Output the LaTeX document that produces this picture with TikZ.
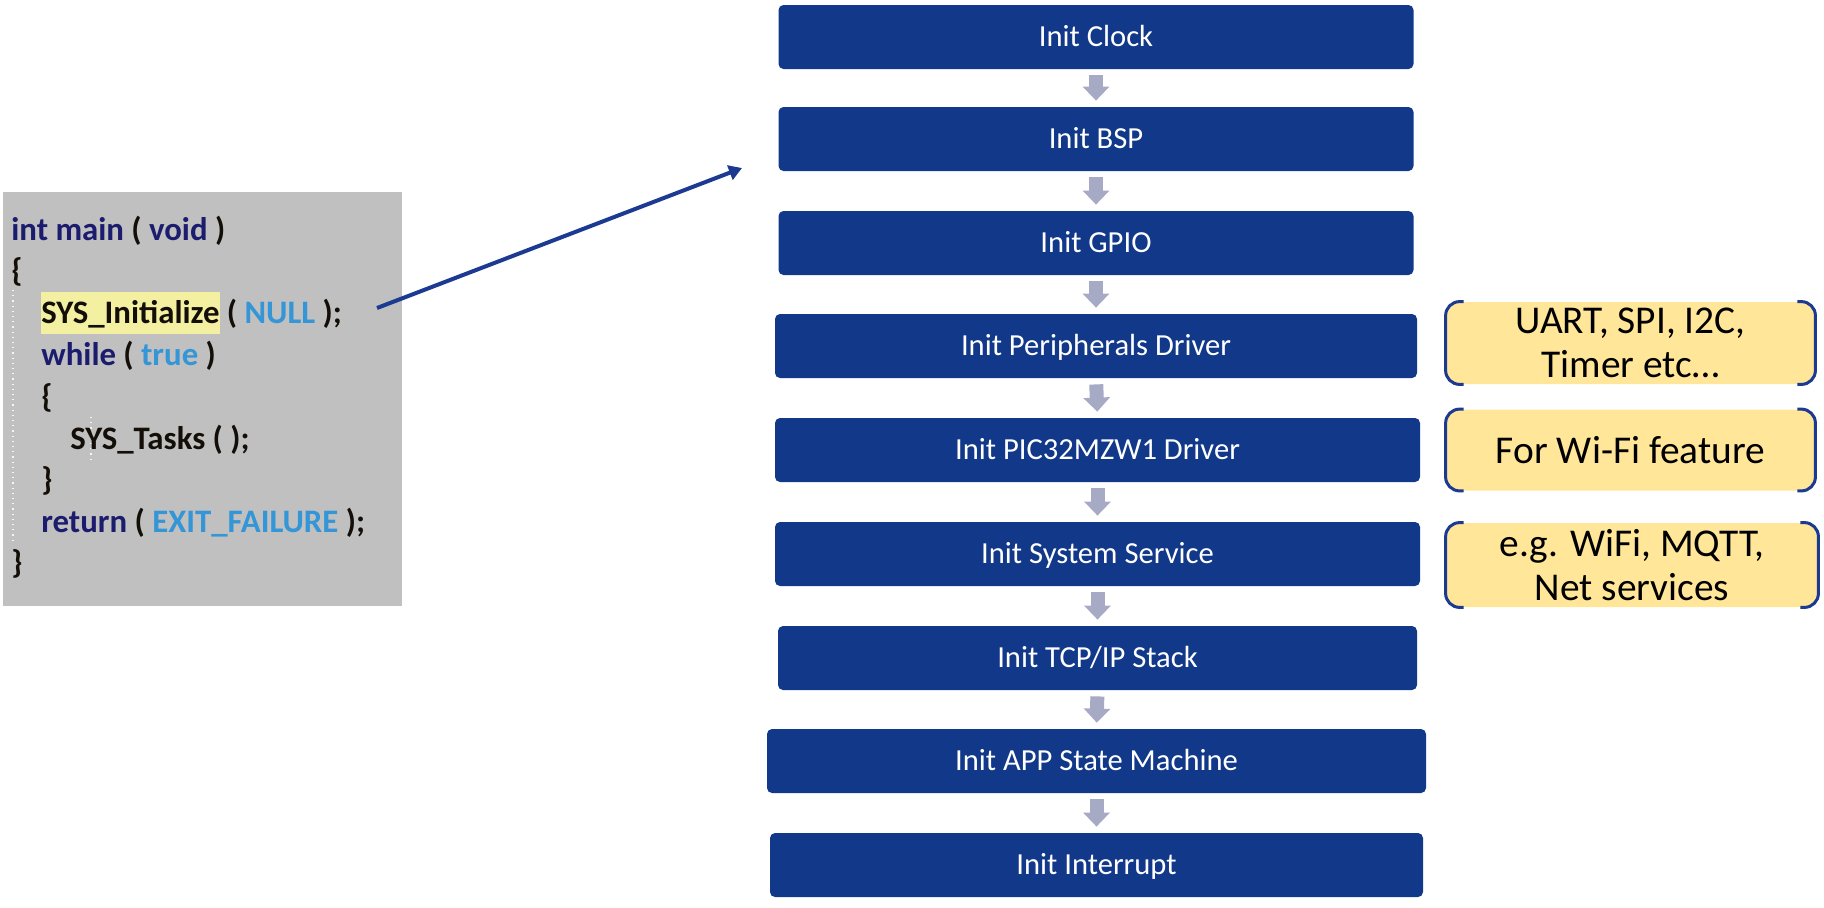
\documentclass[tikz,border=0pt]{standalone}
\usepackage{fontspec}
\setmainfont{Carlito}
\usetikzlibrary{arrows.meta}

\definecolor{boxblue}{RGB}{17,56,137}
\definecolor{bracketblue}{RGB}{28,58,145}
\definecolor{noteyellow}{RGB}{255,230,153}
\definecolor{flowgray}{RGB}{166,170,196}
\definecolor{codebg}{RGB}{192,192,192}
\definecolor{hlyellow}{RGB}{244,240,162}
\definecolor{kwnavy}{RGB}{28,28,110}
\definecolor{litblue}{RGB}{52,150,214}
\definecolor{codeink}{RGB}{20,14,8}

\newcommand\kwd[1]{\textcolor{kwnavy}{#1}}
\newcommand\litv[1]{\textcolor{litblue}{#1}}

\begin{document}
\begin{tikzpicture}[x=0.5pt,y=-0.5pt,
  stepbox/.style={fill=boxblue, rounded corners=2.5pt, text=white,
    font=\fontsize{15.3pt}{18pt}\selectfont, inner sep=0pt,
    minimum height=32pt, text height=12pt, text depth=2.5pt},
  flowarrow/.style={draw=flowgray, line width=7pt,
    -{Triangle[length=7pt,width=13pt]}, shorten <=3pt, shorten >=3pt},
  notebox/.style={fill=noteyellow, rounded corners=7pt, inner sep=0pt,
    align=center, font=\fontsize{19.7pt}{22pt}\selectfont},
  bracket/.style={draw=bracketblue, line width=1.5pt, rounded corners=7pt},
  codeline/.style={anchor=base west, inner sep=0pt, text=codeink,
    font=\bfseries\fontsize{16.4pt}{19pt}\selectfont},
  guide/.style={draw=white!85!codebg, line width=0.6pt, dotted},
  callarrow/.style={draw=bracketblue, line width=2pt,
    -{Triangle[length=6.5pt,width=7.5pt]}}
]
\useasboundingbox (0,0) rectangle (1824,907);

% code listing of main()
\node[fill=codebg, inner sep=0pt, minimum width=199.5pt, minimum height=207pt]
  (code) at (202.5,399) {};
\draw[guide] (13,290) -- (13,544);
\draw[guide] (91,417) -- (91,459);
\node[codeline] (l1) at (11,240) {\kwd{int main} ( \kwd{void} )};
\node[codeline] (l2) at (11,281) {\{};
\node[codeline] (l3) at (41,323) {{\setlength\fboxsep{0pt}\colorbox{hlyellow}{\rule[-5.5pt]{0pt}{21pt}SYS\_Initialize}} ( \litv{NULL} );};
\node[codeline] (l4) at (41,365) {\kwd{while} ( \litv{true} )};
\node[codeline] (l5) at (41,407) {\{};
\node[codeline] (l6) at (70,449) {SYS\_Tasks ( );};
\node[codeline] (l7) at (41,490) {\}};
\node[codeline] (l8) at (41,532) {\kwd{return} ( \litv{EXIT\_FAILURE} );};
\node[codeline] (l9) at (11,573) {\}};

% initialisation sequence
\node[stepbox, minimum width=317.5pt] (clock) at (1096,37)  {Init Clock};
\node[stepbox, minimum width=317.5pt] (bsp)   at (1096,139) {Init BSP};
\node[stepbox, minimum width=317.5pt] (gpio)  at (1096,243) {Init GPIO};
\node[stepbox, minimum width=321pt]   (periph) at (1096,346) {Init Peripherals Driver};
\node[stepbox, minimum width=322.5pt] (pic)   at (1097.5,450) {Init PIC32MZW1 Driver};
\node[stepbox, minimum width=322.5pt] (sys)   at (1097.5,554) {Init System Service};
\node[stepbox, minimum width=319.5pt] (tcp)   at (1097.5,658) {Init TCP/IP Stack};
\node[stepbox, minimum width=329.5pt] (app)   at (1096.5,761) {Init APP State Machine};
\node[stepbox, minimum width=326.5pt] (irq)   at (1096.5,865) {Init Interrupt};

\foreach \a/\b in {clock/bsp, bsp/gpio, gpio/periph, periph/pic,
                   pic/sys, sys/tcp, tcp/app, app/irq}
  \draw[flowarrow] (\a.south) -- (\b.north);

% side notes
\node[notebox, minimum width=184.5pt, minimum height=41pt] (n1) at (1630.5,343)
  {UART, SPI, I2C,\\Timer etc…};
\node[notebox, minimum width=184.5pt, minimum height=40.5pt] (n2) at (1630.5,450)
  {For Wi-Fi feature};
\node[notebox, minimum width=186pt, minimum height=42pt] (n3) at (1632,565)
  {e.g. WiFi, MQTT,\\Net services};
\foreach \n in {n1,n2,n3}{
  \draw[bracket] ([xshift=9pt]\n.north west) -- (\n.north west)
                 -- (\n.south west) -- ([xshift=9pt]\n.south west);
  \draw[bracket] ([xshift=-9pt]\n.north east) -- (\n.north east)
                 -- (\n.south east) -- ([xshift=-9pt]\n.south east);
}

% call from SYS_Initialize into the sequence
\coordinate (callsrc) at (377,308);
\coordinate (calldst) at (742,168);
\draw[callarrow] (callsrc) -- (calldst);
\end{tikzpicture}
\end{document}
